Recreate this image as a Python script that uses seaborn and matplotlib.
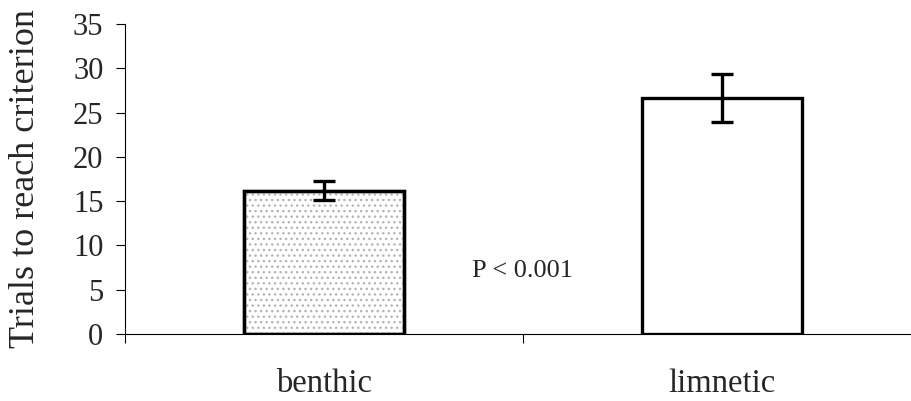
import matplotlib
matplotlib.use("Agg")
import matplotlib.pyplot as plt
from matplotlib.patches import Rectangle
import seaborn as sns
import pandas as pd
import numpy as np

# Mean trials to reach criterion per ecotype, with error bars
groups = ["benthic", "limnetic"]
means = [16.2, 26.6]
errors = [1.1, 2.7]
y_ticks = [0, 5, 10, 15, 20, 25, 30, 35]
annotation = "P < 0.001"

sns.set_theme(style="white")
plt.rcParams["font.family"] = ["Liberation Serif", "DejaVu Serif"]

df = pd.DataFrame({"group": groups, "trials": means})

fig = plt.figure(figsize=(9.12, 4.01), dpi=100)
# axes runs past the right edge of the figure, as in a cropped spreadsheet chart
ax = fig.add_axes([125 / 912, 67 / 401, 796 / 912, 310 / 401])

sns.barplot(data=df, x="group", y="trials", order=groups, width=0.4,
            color="white", edgecolor="black", linewidth=2.4, errorbar=None,
            ax=ax, zorder=2)

# light grey stipple over the benthic bar
b = ax.patches[0]
ax.add_patch(Rectangle(b.get_xy(), b.get_width(), b.get_height(), fill=False,
                       edgecolor="#b5b5b5", linewidth=0, hatch="...", zorder=2.1))
# redraw its outline above the stipple
ax.add_patch(Rectangle(b.get_xy(), b.get_width(), b.get_height(), fill=False,
                       edgecolor="black", linewidth=2.4, zorder=2.2))

ax.errorbar(x=np.arange(len(groups)), y=means, yerr=errors, fmt="none",
            ecolor="black", elinewidth=2.4, capsize=8, capthick=2.4, zorder=3)

ax.set_xlim(-0.5, 1.5)
ax.set_ylim(0, 35)
ax.set_yticks(y_ticks)
ax.set_yticklabels([str(t) for t in y_ticks], fontsize=22)

# category boundaries carry the tick marks; labels sit at bar centres
ax.set_xticks([-0.5, 0.5, 1.5])
ax.set_xticklabels([])
ax.set_xticks([0, 1], minor=True)
ax.set_xticklabels(groups, minor=True, fontsize=23.5)
ax.tick_params(axis="x", which="major", direction="out", length=6.5, width=0.8,
               color="black", bottom=True)
ax.tick_params(axis="x", which="minor", length=0, pad=25)
ax.tick_params(axis="y", direction="out", length=6.5, width=0.8, color="black",
               left=True, pad=9)

ax.set_xlabel("")
ax.set_ylabel("Trials to reach criterion", fontsize=26, labelpad=22)

for side in ["top", "right"]:
    ax.spines[side].set_visible(False)
for side in ["left", "bottom"]:
    ax.spines[side].set_color("black")
    ax.spines[side].set_linewidth(0.8)

ax.text(0.5, 7.1, annotation, ha="center", va="center", fontsize=19)

fig.savefig("out.png", dpi=100)
